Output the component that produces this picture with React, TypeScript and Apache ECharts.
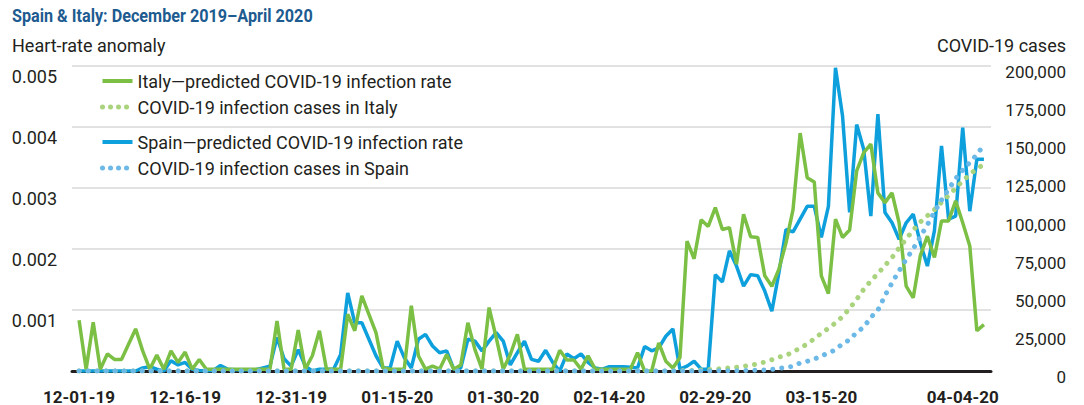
import React, { useEffect, useRef } from 'react';
import * as echarts from 'echarts';

const TITLE = 'Spain & Italy: December 2019–April 2020';
const LEFT_NAME = 'Heart-rate anomaly';
const RIGHT_NAME = 'COVID-19 cases';

const S_IT_RATE = 'Italy—predicted COVID-19 infection rate';
const S_IT_CASES = 'COVID-19 infection cases in Italy';
const S_ES_RATE = 'Spain—predicted COVID-19 infection rate';
const S_ES_CASES = 'COVID-19 infection cases in Spain';

// daily categories, 12-01-19 .. 04-07-20
const START = Date.UTC(2019, 11, 1);
const DAYS = 129;
const pad2 = (n: number) => String(n).padStart(2, '0');
const dates: string[] = Array.from({ length: DAYS }, (_, i) => {
  const d = new Date(START + i * 86400000);
  return `${pad2(d.getUTCMonth() + 1)}-${pad2(d.getUTCDate())}-${pad2(d.getUTCFullYear() % 100)}`;
});

const xTickLabels = ['12-01-19', '12-16-19', '12-31-19', '01-15-20', '01-30-20', '02-14-20', '02-29-20', '03-15-20', '04-04-20'];

const italyRate = [
  0.00083, 0.00003, 0.0008, 0.00003, 0.00028, 0.00019, 0.00019, 0.00044, 0.00069, 0.00033,
  0.00003, 0.00026, 0.00003, 0.00033, 0.00014, 0.00031, 0.00003, 0.00019, 0.00003, 0.00003,
  0.00003, 0.00003, 0.00003, 0.00003, 0.00003, 0.00003, 0.00003, 0.00003, 0.00082, 0.00003,
  0.00003, 0.00067, 0.00003, 0.00025, 0.00066, 0.00003, 0.00003, 0.00003, 0.00093, 0.00066,
  0.00123, 0.00093, 0.00063, 0.00005, 0.00003, 0.00003, 0.00003, 0.00107, 0.00025, 0.00003,
  0.00008, 0.00003, 0.00027, 0.00003, 0.0001, 0.00079, 0.00035, 0.00003, 0.00104, 0.00055,
  0.00003, 0.00027, 0.0006, 0.00003, 0.00003, 0.00003, 0.00003, 0.00003, 0.00034, 0.00018,
  0.00018, 0.00003, 0.00025, 0.00003, 0.00003, 0.00003, 0.00003, 0.00003, 0.00003, 0.0003,
  0.0, 0.0, 0.00046, 0.00016, 0.00005, 0.00022, 0.00213, 0.00184, 0.00248, 0.00237,
  0.00268, 0.00232, 0.00235, 0.00175, 0.00257, 0.0022, 0.00219, 0.00156, 0.00139, 0.00167,
  0.0021, 0.00265, 0.0039, 0.00317, 0.0031, 0.00156, 0.00127, 0.00249, 0.00219, 0.00231,
  0.00328, 0.00358, 0.00372, 0.00292, 0.00276, 0.00292, 0.00243, 0.00139, 0.0012, 0.00189,
  0.00221, 0.00186, 0.00246, 0.00246, 0.00279, 0.00243, 0.00205, 0.00066, 0.00076,
];

const spainRate = [
  0, 0, 0, 0, 0, 0, 0, 0, 0, 0.00005,
  0.00007, 0.00003, 0, 0.00017, 0.0001, 0.00014, 0.00003, 0.00001, 0, 0.00001,
  0.00009, 0.00003, 0.00002, 0.00002, 0.00002, 0.00002, 0.00005, 0.00008, 0.00055, 0.0002,
  0.00008, 0.00035, 0.00008, 0, 0.00003, 0.00003, 0.00003, 0.00027, 0.00128, 0.00079,
  0.00079, 0.00052, 0.00025, 0.00005, 0.00005, 0.00049, 0.00022, 0.00005, 0.00052, 0.0006,
  0.00041, 0.0003, 0.00033, 0.00003, 0.00005, 0.00052, 0.00049, 0.00033, 0.00049, 0.00063,
  0.00049, 0.0001, 0.0003, 0.00049, 0.00019, 0.00016, 0.00034, 0.00014, 0, 0.00028,
  0.0002, 0.00028, 0.00014, 0.00005, 0.00003, 0.00007, 0.00007, 0.00007, 0.00006, 0.00005,
  0.0004, 0.00033, 0.00038, 0.00057, 0.00069, 0.00003, 0.00008, 0.00016, 0.00003, 0.00003,
  0.00158, 0.00146, 0.00197, 0.00172, 0.00139, 0.00158, 0.00156, 0.00131, 0.00098, 0.00161,
  0.00232, 0.00228, 0.00249, 0.0027, 0.0027, 0.00219, 0.0027, 0.00497, 0.00418, 0.0026,
  0.00404, 0.00363, 0.00254, 0.00421, 0.0026, 0.00243, 0.00216, 0.00243, 0.00257, 0.0021,
  0.00172, 0.0023, 0.00369, 0.00249, 0.00254, 0.00399, 0.00262, 0.00347, 0.00347,
];

const italyCases = [
  0, 0, 0, 0, 0, 0, 0, 0, 0, 0,
  0, 0, 0, 0, 0, 0, 0, 0, 0, 0,
  0, 0, 0, 0, 0, 0, 0, 0, 0, 0,
  0, 0, 0, 0, 0, 0, 0, 0, 0, 0,
  0, 0, 0, 0, 0, 0, 0, 0, 0, 0,
  0, 0, 0, 0, 0, 0, 0, 0, 0, 0,
  0, 0, 0, 0, 0, 0, 0, 0, 0, 0,
  0, 0, 0, 0, 0, 0, 0, 0, 0, 0,
  0, 0, 20, 80, 150, 230, 320, 450, 650, 890,
  1130, 1690, 2040, 2500, 3090, 3860, 4640, 5880, 7380, 9170,
  10150, 12460, 15110, 17660, 21160, 24750, 27980, 31510, 35710, 41040,
  47020, 53580, 59140, 63930, 69180, 74390, 80590, 86500, 92470, 97690,
  101740, 105790, 110570, 115240, 119830, 124630, 128950, 132550, 135590,
];

const spainCases = [
  0, 0, 0, 0, 0, 0, 0, 0, 0, 0,
  0, 0, 0, 0, 0, 0, 0, 0, 0, 0,
  0, 0, 0, 0, 0, 0, 0, 0, 0, 0,
  0, 0, 0, 0, 0, 0, 0, 0, 0, 0,
  0, 0, 0, 0, 0, 0, 0, 0, 0, 0,
  0, 0, 0, 0, 0, 0, 0, 0, 0, 0,
  0, 0, 0, 0, 0, 0, 0, 0, 0, 0,
  0, 0, 0, 0, 0, 0, 0, 0, 0, 0,
  0, 0, 0, 0, 0, 7, 13, 15, 32, 45,
  84, 120, 165, 222, 259, 400, 500, 673, 1073, 1695,
  2277, 3146, 5232, 6391, 7798, 9942, 11748, 13910, 17963, 20410,
  25374, 28768, 35136, 39885, 49515, 57786, 65719, 73235, 80110, 87956,
  95923, 104118, 112065, 119199, 126168, 131646, 136675, 141942, 148220,
];

const FONT = 'Roboto, "Liberation Sans", sans-serif';
const TEXT = '#231f20';
const GREEN = '#7bbf45';
const GREEN_L = '#a9d37d';
const BLUE = '#0ea0dc';
const BLUE_L = '#6cb8e6';

// one empty category on each side of the days
const cats = [' ', ...dates, '  '];
const padded = (arr: number[]) => [null, ...arr, null];

const SOLID_ICON = { width: 4, type: 'solid' };
const DOT_ICON = { width: 5, type: [0.01, 8], cap: 'round' };

export default function App() {
  const ref = useRef<HTMLDivElement>(null);
  useEffect(() => {
    if (!ref.current) return;
    const chart = echarts.init(ref.current, undefined, { renderer: 'svg' });
    const legendBase = {
      orient: 'vertical', left: 100, padding: 0,
      itemWidth: 30, itemHeight: 12, itemGap: 8,
      itemStyle: { opacity: 0 },
      textStyle: { fontFamily: FONT, fontSize: 18, lineHeight: 18, color: TEXT },
    };
    chart.setOption({
      animation: false,
      backgroundColor: '#ffffff',
      textStyle: { fontFamily: FONT },
      graphic: [
        {
          type: 'text', left: 12, top: 7, scaleX: 0.9,
          style: { text: TITLE, fontFamily: FONT, fontSize: 18, fontWeight: 'bold', fill: '#1d5b90' },
        },
      ],
      title: [
        { text: LEFT_NAME, left: 12, top: 36, padding: 0, textStyle: { fontFamily: FONT, fontSize: 18, fontWeight: 'normal', color: TEXT } },
        { text: RIGHT_NAME, right: 18, top: 36, padding: 0, textStyle: { fontFamily: FONT, fontSize: 18, fontWeight: 'normal', color: TEXT } },
      ],
      legend: [
        {
          ...legendBase, top: 72,
          data: [
            { name: S_IT_RATE, lineStyle: SOLID_ICON },
            { name: S_IT_CASES, lineStyle: DOT_ICON },
          ],
        },
        {
          ...legendBase, top: 133,
          data: [
            { name: S_ES_RATE, lineStyle: SOLID_ICON },
            { name: S_ES_CASES, lineStyle: DOT_ICON },
          ],
        },
      ],
      grid: { left: 72, right: 93, top: 66, bottom: 34 },
      xAxis: {
        type: 'category', data: cats, boundaryGap: false,
        axisLine: { lineStyle: { color: TEXT, width: 3 } },
        axisTick: { show: false },
        axisLabel: {
          interval: (_i: number, v: string) => xTickLabels.includes(v),
          fontFamily: FONT, fontSize: 17, fontWeight: 'bold', color: TEXT, margin: 17,
        },
        splitLine: { show: false },
      },
      yAxis: [
        {
          type: 'value', min: 0, max: 0.005, interval: 0.001,
          axisLine: { show: false }, axisTick: { show: false },
          splitLine: { lineStyle: { color: '#d9d9d9', width: 1.5 } },
          axisLabel: {
            formatter: (v: number) => (v === 0 ? '' : v.toFixed(3)),
            fontFamily: FONT, fontSize: 18, color: TEXT, margin: 15,
            verticalAlign: 'top', lineHeight: 20,
          },
        },
        {
          type: 'value', min: 0, max: 200000, interval: 25000,
          axisLine: { show: false }, axisTick: { show: false }, splitLine: { show: false },
          axisLabel: {
            formatter: (v: number) => v.toLocaleString('en-US'),
            fontFamily: FONT, fontSize: 17, color: TEXT, margin: 75, align: 'right',
            verticalAlign: 'top', lineHeight: 12,
          },
        },
      ],
      series: [
        {
          name: S_ES_RATE, type: 'line', yAxisIndex: 0, data: padded(spainRate),
          symbol: 'none', lineStyle: { color: BLUE, width: 3.5 }, itemStyle: { color: BLUE }, z: 2,
        },
        {
          name: S_IT_RATE, type: 'line', yAxisIndex: 0, data: padded(italyRate),
          symbol: 'none', lineStyle: { color: GREEN, width: 3.5 }, itemStyle: { color: GREEN }, z: 3,
        },
        {
          name: S_IT_CASES, type: 'line', yAxisIndex: 1, data: padded(italyCases),
          symbol: 'none', lineStyle: { color: GREEN_L, width: 5, type: [0.01, 9], cap: 'round' }, itemStyle: { color: GREEN_L }, z: 4,
        },
        {
          name: S_ES_CASES, type: 'line', yAxisIndex: 1, data: padded(spainCases),
          symbol: 'none', lineStyle: { color: BLUE_L, width: 5, type: [0.01, 9], cap: 'round' }, itemStyle: { color: BLUE_L }, z: 4,
        },
      ],
    });
    return () => chart.dispose();
  }, []);
  return <div ref={ref} style={{ width: 1084, height: 405, position: 'absolute', left: 0, top: 0 }} />;
}
